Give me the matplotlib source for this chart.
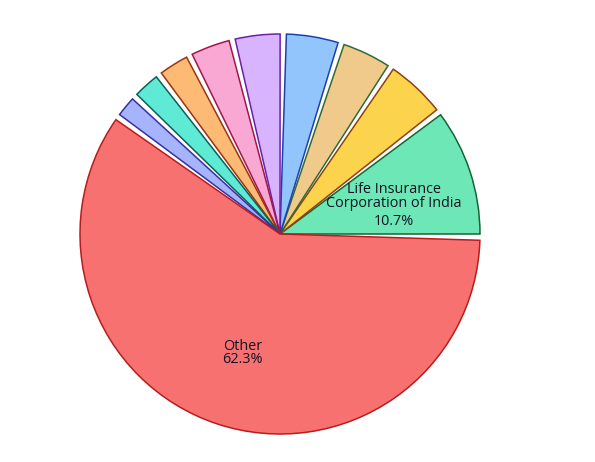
import numpy as np
import matplotlib as mpl
mpl.use('Agg')
import matplotlib.pyplot as plt

# ----------------------------------------------------------------------
# --- data (percentages)

labels = ['Life Insurance\nCorporation of India', 'Holder 2', 'Holder 3', 'Holder 4', 'Holder 5',
          'Holder 6', 'Holder 7', 'Holder 8', 'Holder 9', 'Other']
values = [10.7, 5.0, 4.1, 4.4, 3.8, 3.3, 2.5, 2.2, 1.7, 62.3]

fills = ['#6ee7b7', '#fcd34d', '#f0ca8a', '#93c5fd', '#d8b4fe',
         '#f9a8d4', '#fdba74', '#5eead4', '#a5b4fc', '#f87171']
edges = ['#166534', '#92400e', '#2f6b3a', '#1e40af', '#6b21a8',
         '#9d174d', '#9a3412', '#115e59', '#3730a3', '#b91c1c']

plt.rcParams['font.family'] = ['Open Sans', 'DejaVu Sans']

fig = plt.figure(figsize=(5.95, 4.62), dpi=100)
ax = fig.add_axes([0, 0, 1, 1])

wedges, _ = ax.pie(values, colors=fills, startangle=0, counterclock=True, radius=1.0,
                   wedgeprops={'linewidth': 1.1})

# --- shrink each wedge to leave a small angular gap between slices
pad = 1.8
scale = 1 - pad * len(values) / 360.
for i, (w, ec) in enumerate(zip(wedges, edges)):
    t1, t2 = w.theta1, w.theta2
    n1 = t1 * scale + pad * i
    n2 = n1 + (t2 - t1) * scale
    w.set_theta1(n1)
    w.set_theta2(n2)
    w.set_edgecolor(ec)

# --- labels only for the big slices
txt = dict(ha='center', va='center', fontsize=10.4, color='#111122', fontweight='medium')
for w, lab, v in zip(wedges, labels, values):
    if v < 10:
        continue
    mid = np.deg2rad((w.theta1 + w.theta2) / 2.)
    x, y = 0.6 * np.cos(mid), 0.6 * np.sin(mid)
    if '\n' in lab:
        ax.text(x, y, lab, linespacing=0.85, **txt)
        ax.text(x, y - 0.125, f'{v:.1f}%', **txt)
    else:
        ax.text(x, y - 0.025, f'{lab}\n{v:.1f}%', linespacing=0.8, **txt)

ax.set_aspect('equal')
ax.set_xlim(-280 / 200., (595 - 280) / 200.)
ax.set_ylim(-(462 - 234) / 200., 234 / 200.)
ax.axis('off')

fig.savefig('out.png', dpi=100)
